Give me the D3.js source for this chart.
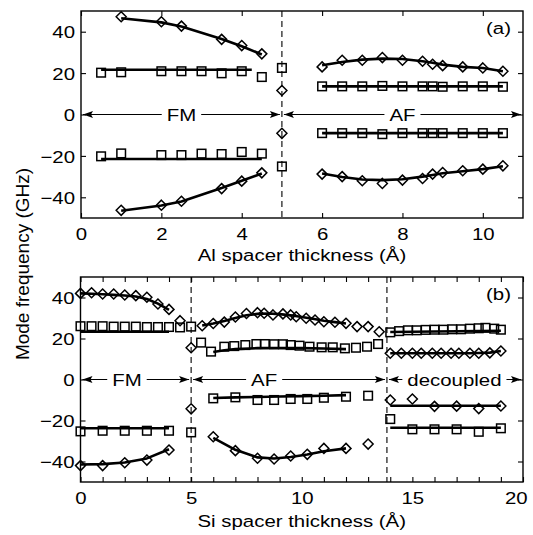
<!DOCTYPE html>
<html>
<head>
<meta charset="utf-8">
<script src="https://cdnjs.cloudflare.com/ajax/libs/d3/7.8.5/d3.min.js"></script>
<style>
  body { margin: 0; background: #fff; }
  svg { display: block; }
  text { font-family: "Liberation Sans", Arial, Helvetica, sans-serif; fill: #000; }
</style>
</head>
<body>
<svg id="chart" width="533" height="535"></svg>
<script>
// ---------- panel (a): Al spacer ----------
var aFmDiaX = [1, 2, 2.5, 3.5, 4, 4.5];
var aFmUpDia = [47.2, 44.8, 42.7, 36.3, 33.3, 29.3];
var aFmUpDiaFit = [46.5, 44.5, 42.5, 36.5, 33, 29];
var aFmLoDia = [-46.3, -43.8, -41.9, -35.8, -32.2, -28.2];
var aFmLoDiaFit = [-46.5, -44, -42, -35.5, -32, -28.5];
var aFmSqX = [0.5, 1, 2, 2.5, 3, 3.5, 4, 4.5];
var aFmUpSq = [20.2, 20.4, 20.9, 20.9, 20.9, 19.9, 20.9, 18.1];
var aFmLoSq = [-20.2, -18.8, -19.6, -19.6, -18.9, -19.1, -18.1, -18.9];
var aFmUpSqFitX = [0.5, 4.25], aFmUpSqFit = [21.6, 21.6];
var aFmLoSqFitX = [0.5, 4.5], aFmLoSqFit = [-21.5, -21.5];
var aEdgeX = 5;
var aEdgeSq = [22.5, -25.1];
var aEdgeDia = [11.6, -9.1];

var aAfX = [6, 6.5, 7, 7.5, 8, 8.5, 8.75, 9, 9.5, 10, 10.5];
var aAfUpDia = [23.0, 26.2, 26.2, 27.5, 26.2, 25.7, 24.3, 23.6, 23.0, 22.5, 20.9];
var aAfUpDiaFit = [23.8, 25.4, 26.5, 27.0, 26.8, 25.7, 25.0, 24.1, 23.0, 22.5, 20.9];
var aAfUpSq = [13.6, 13.6, 13.6, 13.8, 13.6, 13.6, 13.6, 13.4, 13.6, 13.6, 13.4];
var aAfUpSqFit = [13.6, 13.6, 13.6, 13.6, 13.6, 13.6, 13.6, 13.6, 13.6, 13.6, 13.6];
var aAfLoSq = [-9, -9, -9, -9.5, -9, -9, -9, -9, -9, -9, -9];
var aAfLoSqFit = [-9, -9, -9, -9, -9, -9, -9, -9, -9, -9, -9];
var aAfLoDia = [-28.8, -30, -32, -33.3, -31.7, -30.9, -28.8, -28, -27.2, -26.4, -24.8];
var aAfLoDiaFit = [-28.5, -30.2, -31.4, -31.7, -31.3, -30, -29.2, -28.4, -27.4, -26.4, -25];

var aRegions = ["FM", "AF"];
var aRegionEdges = [0, 5, 11];
var aRegionLabelX = [2.5, 8];

// ---------- panel (b): Si spacer ----------
var bFmDiaX = [0, 0.5, 1, 1.5, 2, 2.5, 3, 3.5, 4];
var bFmUpDia = [42, 42.3, 41.7, 41.7, 41.2, 40.9, 40.1, 36.8, 34.2];
var bFmUpDiaFit = [42, 41.8, 41.6, 41.3, 41, 40.5, 39.3, 37, 34];
var bFmSqX = [0, 0.5, 1, 1.5, 2, 2.5, 3, 3.5, 4, 4.5];
var bFmUpSq = [26, 26, 26, 25.8, 25.8, 25.8, 25.6, 25.6, 25.6, 25.4];
var bFmUpSqFitX = [0, 4], bFmUpSqFit = [23.3, 23.3];
var bFmLoX = [0, 1, 2, 3, 4];
var bFmLoSq = [-25.3, -25, -25, -25, -25];
var bFmLoSqFit = [-23.8, -23.8, -23.8, -23.8, -23.8];
var bFmLoDia = [-42, -42, -40.6, -39.3, -34.4];
var bFmLoDiaFit = [-41.5, -41.3, -40.5, -38.5, -34];
var bEdgeDiaX = [4.5, 5, 5];
var bEdgeDia = [28.7, 15.5, -14.3];
var bEdgeSqX = [5, 5];
var bEdgeSq = [25.8, -25.8];

var bAfUpDiaX = [5.5, 6, 6.5, 7, 7.5, 8, 8.3, 8.7, 9.15, 9.5, 9.75, 10.2, 10.6, 11, 11.5, 12, 12.5, 13, 13.5];
var bAfUpDia = [26.2, 27.3, 28, 30.5, 32.2, 32.6, 32.3, 31.5, 32, 31.5, 30.6, 29.9, 29, 28.2, 27.9, 27.4, 25.8, 25.8, 23.3];
var bAfUpDiaFitX = [5.5, 6, 6.5, 7, 7.5, 8, 8.5, 9, 9.5, 10, 10.5, 11, 11.5, 12];
var bAfUpDiaFit = [26.3, 27.3, 28.5, 30, 31.3, 32, 32.2, 31.9, 31.3, 30.5, 29.6, 28.7, 28, 27.3];
var bAfUpSqX = [5.45, 5.9, 6.5, 6.95, 7.45, 7.95, 8.33, 8.75, 9.15, 9.5, 9.9, 10.35, 10.9, 11.4, 11.95, 12.45, 12.95, 13.45];
var bAfUpSq = [18, 13.6, 16, 16.3, 16.8, 17.3, 17.3, 17.2, 17.2, 16.8, 16.5, 16, 15.7, 15.7, 15.2, 15.5, 16, 17.3];
var bAfUpSqFitX = [6, 6.5, 7, 8, 9, 10, 11, 12];
var bAfUpSqFit = [13.4, 14.3, 14.8, 15.3, 15.4, 15.3, 15.1, 14.8];
var bAfLoX = [6, 7, 8, 8.75, 9.5, 10.25, 11, 12, 13];
var bAfLoSq = [-9.2, -8.7, -10, -10, -9.5, -9.5, -8.9, -8.4, -7.9];
var bAfLoSqFitX = [6, 7, 8, 9, 10, 11, 12];
var bAfLoSqFit = [-9, -8.7, -8.5, -8.3, -8.1, -7.9, -7.6];
var bAfLoDia = [-27.9, -34.7, -38.4, -38.8, -37.3, -36.5, -33.6, -33.6, -31.5];
var bAfLoDiaFitX = [6, 7, 8, 8.75, 9.5, 10.25, 11, 12];
var bAfLoDiaFit = [-28.5, -34.3, -38, -38.5, -37.8, -36.6, -35, -33.6];

var bDcUpSqX = [14, 14.4, 14.8, 15.2, 15.6, 16, 16.4, 16.8, 17.2, 17.6, 18, 18.3, 18.7, 19];
var bDcUpSq = [23, 23.6, 24, 24, 24.2, 24.3, 24.3, 24.5, 24.5, 24.8, 25, 25.2, 24.8, 24.3];
var bDcUpSqFitX = [14, 19], bDcUpSqFit = [23.2, 23.8];
var bDcMidDiaX = [14, 14.5, 15, 15.4, 15.9, 16.3, 16.75, 17.1, 17.6, 18, 18.5, 19];
var bDcMidDia = [12.8, 12.8, 12.8, 12.8, 12.8, 12.8, 12.8, 12.8, 12.8, 12.8, 13, 13.9];
var bDcMidDiaFit = [12.8, 12.8, 12.8, 12.8, 12.8, 12.8, 12.8, 12.8, 12.8, 12.9, 13.1, 13.9];
var bDcLoX = [14, 15, 16, 17, 18, 19];
var bDcLoDia = [-10, -9.5, -13.1, -13, -14.2, -12.9];
var bDcLoDiaFitX = [14, 19], bDcLoDiaFit = [-12.8, -12.8];
var bDcLoSq = [-19.3, -24.3, -24.3, -24.3, -25.5, -23.8];
var bDcLoSqFitX = [14, 19], bDcLoSqFit = [-23.5, -23.5];

var bRegions = ["FM", "AF", "decoupled"];
var bRegionEdges = [0, 5, 13.85, 20];
var bRegionLabelX = [2.1, 8.3, 16.9];

var yTicks = [-40, -20, 0, 20, 40];

// ---------- drawing ----------
var svg = d3.select("#chart");
var fontSize = 17, stretch = 1.2;

function pairs(xs, ys) {
    return xs.map(function(x, i) { return [x, ys[i]]; });
}

function panel(opt) {
    var x = d3.scaleLinear().domain(opt.xDomain).range([opt.left, opt.right]);
    var y = d3.scaleLinear().domain([-50, 50]).range([opt.bottom, opt.top]);
    var g = svg.append("g");

    // dashed boundaries
    opt.dashed.forEach(function(v) {
        g.append("line")
            .attr("x1", x(v)).attr("x2", x(v))
            .attr("y1", opt.top).attr("y2", opt.bottom)
            .style("stroke", "#000").style("stroke-width", 1.1)
            .style("stroke-dasharray", "6,4");
    });

    // region arrows along y = 0
    var arrowG = g.append("g");
    for (var i = 0; i < opt.regions.length; i++) {
        var x1 = x(opt.edges[i]) + 2, x2 = x(opt.edges[i + 1]) - 2, yy = y(0);
        arrowG.append("line")
            .attr("x1", x1).attr("x2", x2).attr("y1", yy).attr("y2", yy)
            .style("stroke", "#000").style("stroke-width", 1.1);
        arrowG.append("path")
            .attr("d", "M0,0 L10,-3.6 L8,0 L10,3.6 Z")
            .attr("transform", "translate(" + x1 + "," + yy + ")");
        arrowG.append("path")
            .attr("d", "M0,0 L-10,-3.6 L-8,0 L-10,3.6 Z")
            .attr("transform", "translate(" + x2 + "," + yy + ")");
        var lbl = arrowG.append("text")
            .attr("text-anchor", "middle")
            .attr("transform", "translate(" + x(opt.labelX[i]) + "," + (yy + 6) + ") scale(" + stretch + ",1)")
            .style("font-size", fontSize + "px")
            .text(opt.regions[i]);
        var w = lbl.node().getComputedTextLength() * stretch;
        arrowG.insert("rect", function() { return lbl.node(); })
            .attr("x", x(opt.labelX[i]) - w / 2 - 5).attr("y", yy - 8)
            .attr("width", w + 10).attr("height", 16)
            .style("fill", "#fff");
    }

    var line = d3.line().x(function(d) { return x(d[0]); }).y(function(d) { return y(d[1]); });
    opt.fits.forEach(function(f) {
        g.append("path")
            .datum(pairs(f[0], f[1]))
            .attr("d", line)
            .style("fill", "none").style("stroke", "#000")
            .style("stroke-width", 2.6).style("stroke-linejoin", "round");
    });

    opt.squares.forEach(function(s) {
        g.selectAll(null).data(pairs(s[0], s[1])).enter().append("rect")
            .attr("x", function(d) { return x(d[0]) - 4.3; })
            .attr("y", function(d) { return y(d[1]) - 4.3; })
            .attr("width", 8.6).attr("height", 8.6)
            .style("fill", "none").style("stroke", "#000").style("stroke-width", 1.5);
    });
    opt.diamonds.forEach(function(s) {
        g.selectAll(null).data(pairs(s[0], s[1])).enter().append("path")
            .attr("d", "M0,-5L5,0L0,5L-5,0Z")
            .attr("transform", function(d) { return "translate(" + x(d[0]) + "," + y(d[1]) + ")"; })
            .style("fill", "none").style("stroke", "#000").style("stroke-width", 1.5);
    });

    // axes: inward ticks on all four sides
    var tickLen = 5;
    var bottom = g.append("g").attr("transform", "translate(0," + opt.bottom + ")")
        .call(d3.axisBottom(x).tickValues(opt.xMinor).tickSizeInner(-tickLen).tickSizeOuter(0)
            .tickFormat(function(d) { return opt.xLabels.indexOf(d) >= 0 ? d : ""; }));
    g.append("g").attr("transform", "translate(0," + opt.top + ")")
        .call(d3.axisTop(x).tickValues(opt.xMinor).tickSizeInner(-tickLen).tickSizeOuter(0).tickFormat(""));
    var left = g.append("g").attr("transform", "translate(" + opt.left + ",0)")
        .call(d3.axisLeft(y).tickValues(yTicks).tickSizeInner(-tickLen).tickSizeOuter(0));
    g.append("g").attr("transform", "translate(" + opt.right + ",0)")
        .call(d3.axisRight(y).tickValues(yTicks).tickSizeInner(-tickLen).tickSizeOuter(0).tickFormat(""));
    g.selectAll(".domain").remove();
    g.selectAll(".tick line").style("stroke", "#000").style("stroke-width", 1.1);

    bottom.selectAll("text")
        .attr("y", 10).attr("dy", "0.71em")
        .attr("x", function(d) { return d === opt.xDomain[1] && opt.lastShift ? opt.lastShift : 0; })
        .attr("transform", "scale(" + stretch + ",1)")
        .style("font-size", fontSize + "px").style("font-family", null);
    left.selectAll("text")
        .attr("x", -6 / stretch).attr("dy", "0.36em")
        .attr("transform", "scale(" + stretch + ",1)")
        .style("font-size", fontSize + "px").style("font-family", null);
    g.selectAll(".tick text").attr("fill", "#000");

    g.append("rect")
        .attr("x", opt.left).attr("y", opt.top)
        .attr("width", opt.right - opt.left).attr("height", opt.bottom - opt.top)
        .style("fill", "none").style("stroke", "#000").style("stroke-width", 1.4);

    g.append("text")
        .attr("text-anchor", "middle")
        .attr("transform", "translate(" + ((opt.left + opt.right) / 2) + "," + opt.titleY + ") scale(" + stretch + ",1)")
        .style("font-size", fontSize + "px")
        .text(opt.title);

    g.append("text")
        .attr("text-anchor", "end")
        .attr("transform", "translate(" + (opt.right - 12) + "," + (opt.top + 23) + ") scale(" + stretch + ",1)")
        .style("font-size", fontSize + "px")
        .text(opt.tag);
}

panel({
    xDomain: [0, 11], left: 81, right: 523, top: 11, bottom: 218,
    xMinor: [0, 2, 4, 6, 8, 10], xLabels: [0, 2, 4, 6, 8, 10],
    dashed: [5],
    regions: aRegions, edges: aRegionEdges, labelX: aRegionLabelX,
    fits: [
        [aFmDiaX, aFmUpDiaFit], [aFmDiaX, aFmLoDiaFit],
        [aFmUpSqFitX, aFmUpSqFit], [aFmLoSqFitX, aFmLoSqFit],
        [aAfX, aAfUpDiaFit], [aAfX, aAfUpSqFit], [aAfX, aAfLoSqFit], [aAfX, aAfLoDiaFit]
    ],
    squares: [[aFmSqX, aFmUpSq], [aFmSqX, aFmLoSq], [[aEdgeX, aEdgeX], aEdgeSq],
              [aAfX, aAfUpSq], [aAfX, aAfLoSq]],
    diamonds: [[aFmDiaX, aFmUpDia], [aFmDiaX, aFmLoDia], [[aEdgeX, aEdgeX], aEdgeDia],
               [aAfX, aAfUpDia], [aAfX, aAfLoDia]],
    title: "Al spacer thickness (\u00C5)", titleY: 261, tag: "(a)"
});

panel({
    xDomain: [0, 20], left: 80.5, right: 523, top: 277, bottom: 482,
    xMinor: d3.range(0, 21), xLabels: [0, 5, 10, 15, 20], lastShift: -6,
    dashed: [5, 13.85],
    regions: bRegions, edges: bRegionEdges, labelX: bRegionLabelX,
    fits: [
        [bFmDiaX, bFmUpDiaFit], [bFmUpSqFitX, bFmUpSqFit], [bFmLoX, bFmLoSqFit], [bFmLoX, bFmLoDiaFit],
        [bAfUpDiaFitX, bAfUpDiaFit], [bAfUpSqFitX, bAfUpSqFit], [bAfLoSqFitX, bAfLoSqFit], [bAfLoDiaFitX, bAfLoDiaFit],
        [bDcUpSqFitX, bDcUpSqFit], [bDcMidDiaX, bDcMidDiaFit], [bDcLoDiaFitX, bDcLoDiaFit], [bDcLoSqFitX, bDcLoSqFit]
    ],
    squares: [[bFmSqX, bFmUpSq], [bFmLoX, bFmLoSq], [bEdgeSqX, bEdgeSq],
              [bAfUpSqX, bAfUpSq], [bAfLoX, bAfLoSq], [bDcUpSqX, bDcUpSq], [bDcLoX, bDcLoSq]],
    diamonds: [[bFmDiaX, bFmUpDia], [bFmLoX, bFmLoDia], [bEdgeDiaX, bEdgeDia],
               [bAfUpDiaX, bAfUpDia], [bAfLoX, bAfLoDia], [bDcMidDiaX, bDcMidDia], [bDcLoX, bDcLoDia]],
    title: "Si spacer thickness (\u00C5)", titleY: 527, tag: "(b)"
});

// shared y label
svg.append("text")
    .attr("text-anchor", "middle")
    .attr("transform", "translate(29,264) rotate(-90)")
    .style("font-size", "19px")
    .text("Mode frequency (GHz)");
</script>
</body>
</html>
